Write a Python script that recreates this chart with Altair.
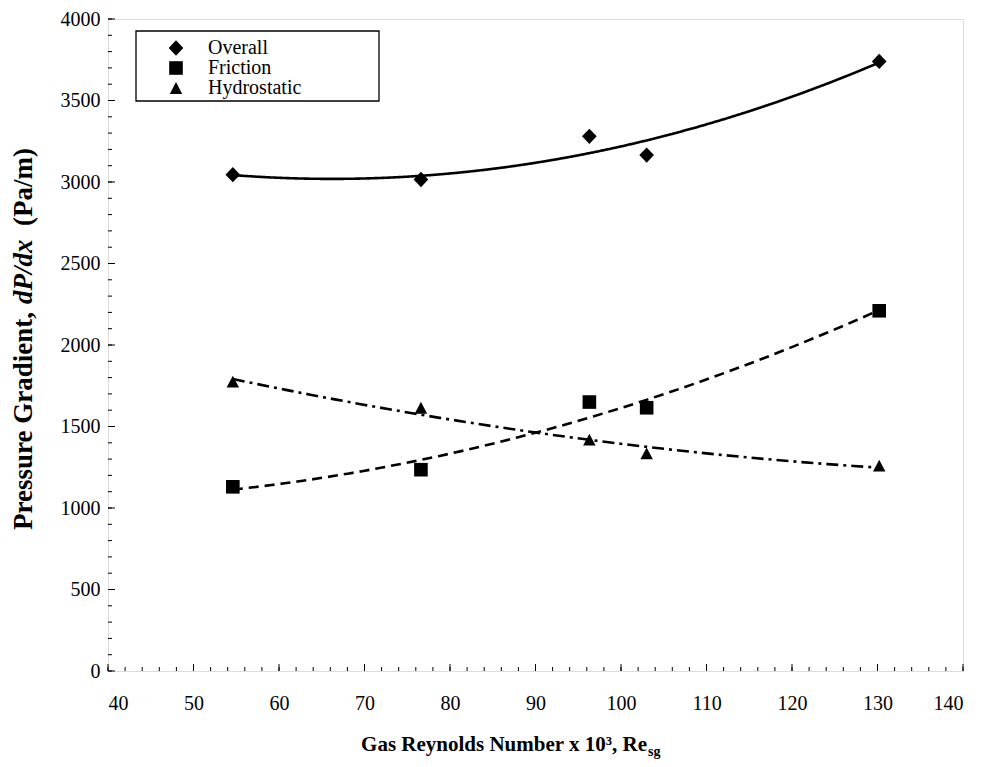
import altair as alt
import pandas as pd

# ---- data ----
re_values = [54.6, 76.6, 96.3, 103.0, 130.2]
overall = [3045, 3015, 3280, 3165, 3740]
friction = [1130, 1235, 1650, 1615, 2210]
hydrostatic = [1775, 1615, 1420, 1335, 1260]
series_names = ["Overall", "Friction", "Hydrostatic"]

x_major = list(range(40, 141, 10))
x_minor = list(range(40, 141, 2))
y_major = list(range(0, 4001, 500))
y_minor = list(range(0, 4001, 100))

W, H = 855, 652
FONT = "Liberation Serif"

DIAMOND = "M0,-1.05L1,0L0,1.05L-1,0Z"
SQUARE = "M-1,-1L1,-1L1,1L-1,1Z"
TRIANGLE = "M0,-0.95L1,0.95L-1,0.95Z"

rows = []
for name, vals in zip(series_names, [overall, friction, hydrostatic]):
    for xv, yv in zip(re_values, vals):
        rows.append({"Re": xv, "dP": yv, "Series": name})
df = pd.DataFrame(rows)

xscale = alt.Scale(domain=[40, 140], nice=False, zero=False)
yscale = alt.Scale(domain=[0, 4000], nice=False)

xaxis = alt.Axis(values=x_major, ticks=False, domain=False, grid=False, format="d",
                 labelFont=FONT, labelFontSize=20, labelColor="black",
                 labelPadding=22, title=None)
yaxis = alt.Axis(values=y_major, ticks=False, domain=False, grid=False, format="d",
                 labelFont=FONT, labelFontSize=20, labelColor="black",
                 labelPadding=8, title=None)

base = alt.Chart(df)

points = base.mark_point(filled=True, opacity=1, color="black", strokeWidth=0).encode(
    x=alt.X("Re:Q", scale=xscale, axis=xaxis),
    y=alt.Y("dP:Q", scale=yscale, axis=yaxis),
    shape=alt.Shape("Series:N",
                    scale=alt.Scale(domain=series_names, range=[DIAMOND, SQUARE, TRIANGLE]),
                    legend=alt.Legend(title=None, orient="none", legendX=58, legendY=19,
                                      labelFont=FONT, labelFontSize=20, labelColor="black",
                                      labelOffset=22, symbolFillColor="black",
                                      symbolStrokeWidth=0, rowPadding=0, padding=0)),
    size=alt.Size("Series:N",
                  scale=alt.Scale(domain=series_names, range=[215, 155, 240])),
)

dashes = {"Overall": [1, 0], "Friction": [10, 6], "Hydrostatic": [12, 5, 3, 5]}
lines = []
for name in series_names:
    lines.append(
        base.transform_filter(alt.datum.Series == name)
        .transform_regression("Re", "dP", method="poly", order=2)
        .mark_line(color="black", strokeWidth=2.6, strokeDash=dashes[name])
        .encode(x=alt.X("Re:Q", scale=xscale, axis=xaxis),
                y=alt.Y("dP:Q", scale=yscale, axis=yaxis))
    )

def xticks(vals, length):
    return alt.Chart(pd.DataFrame({"Re": vals})).mark_rule(color="black", strokeWidth=1).encode(
        x=alt.X("Re:Q", scale=xscale, axis=xaxis),
        y=alt.value(H), y2=alt.value(H - length))

def yticks(vals, length):
    return alt.Chart(pd.DataFrame({"dP": vals})).mark_rule(color="black", strokeWidth=1).encode(
        y=alt.Y("dP:Q", scale=yscale, axis=yaxis),
        x=alt.value(0), x2=alt.value(length))

one = pd.DataFrame({"k": [0]})

legend_box = alt.Chart(one).mark_rect(fill="white", stroke="black", strokeWidth=1.3).encode(
    x=alt.value(28), x2=alt.value(271), y=alt.value(12), y2=alt.value(82))

def ytitle(text, y, italic=False):
    return alt.Chart(one).mark_text(
        font=FONT, fontSize=27, fontWeight="bold", angle=270, align="left",
        baseline="alphabetic", fontStyle="italic" if italic else "normal", color="black"
    ).encode(x=alt.value(-76), y=alt.value(y), text=alt.value(text))

y_title = [
    ytitle("Pressure Gradient,", 511),
    ytitle("dP/dx", 285, italic=True),
    ytitle("(Pa/m)", 207),
]

x_title_main = alt.Chart(one).mark_text(
    font=FONT, fontSize=21, fontWeight="bold", align="right", baseline="alphabetic", color="black"
).encode(x=alt.value(539), y=alt.value(732), text=alt.value("Gas Reynolds Number x 10\u00b3, Re"))
x_title_sub = alt.Chart(one).mark_text(
    font=FONT, fontSize=14, fontWeight="bold", align="left", baseline="alphabetic", color="black"
).encode(x=alt.value(540), y=alt.value(737), text=alt.value("sg"))

chart = alt.layer(
    legend_box,
    xticks(x_minor, 4), xticks(x_major, 7),
    yticks(y_minor, 4), yticks(y_major, 7),
    *lines,
    points,
    *y_title, x_title_main, x_title_sub,
).properties(
    width=W, height=H,
    autosize=alt.AutoSizeParams(type="none"),
    padding={"left": 100, "top": 11, "right": 15, "bottom": 96},
).configure_view(stroke="black", strokeWidth=2).configure(background="white")

chart.save("out.html", embed_options={"renderer": "svg", "actions": False})
